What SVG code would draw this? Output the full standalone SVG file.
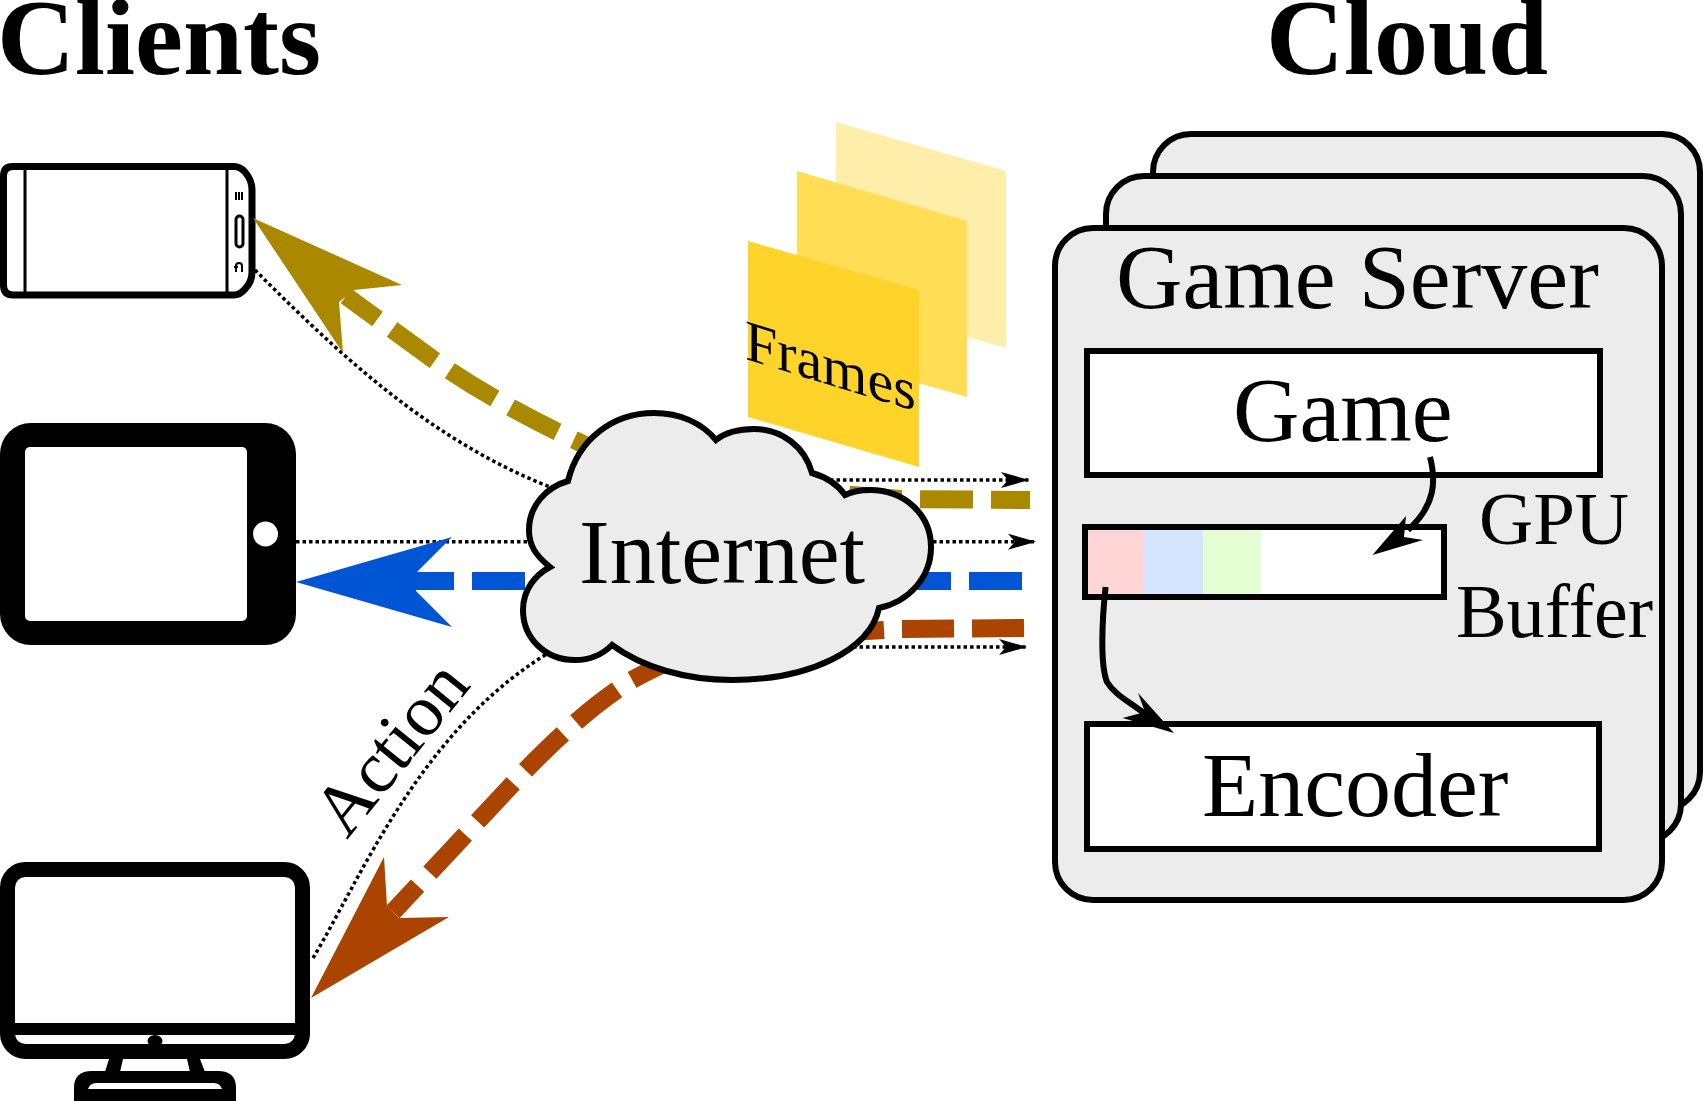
<svg xmlns="http://www.w3.org/2000/svg" width="1704" height="1101" viewBox="0 0 1704 1101">
<style>
text{font-family:"Liberation Serif","Times New Roman",serif;fill:#000}
.title{font-weight:bold;font-size:108px}
.big{font-size:92px}
.mid{font-size:75px}
.card{fill:#ececec;stroke:#000;stroke-width:6}
.box{fill:#fff;stroke:#000;stroke-width:6}
.dot{fill:none;stroke:#000;stroke-width:3.500;stroke-dasharray:3.500 3}
.dash{fill:none;stroke-width:18;stroke-dasharray:53 18}
.flow{fill:none;stroke:#000;stroke-width:6}
</style>
<defs>
<marker id="tip" markerUnits="userSpaceOnUse" markerWidth="30" markerHeight="20" refX="28" refY="9" orient="auto">
<path d="M0,1 L28,9 L0,17 L7,9 Z" fill="#000"/>
</marker>
</defs>
<rect width="1704" height="1101" fill="#fff"/>
<g id="title-clients"><text class="title" x="-3" y="74">Clients</text></g>
<g id="title-cloud"><text class="title" x="1266" y="74">Cloud</text></g>
<g id="phone" fill="none" stroke="#000">
<path d="M13,166.500 H234 Q240,166.500 245,172 Q252,180 252,190 V272 Q252,282 245,289 Q240,295 234,295 H13 Q3.500,295 3.500,285 V176 Q3.500,166.500 13,166.500 Z" fill="#fff" stroke-width="7"/>
<path d="M25,166 V295 M227,166 V295" stroke-width="3"/>
<rect x="236" y="216" width="7" height="31" rx="3.500" stroke-width="3"/>
<path d="M236,192 V200 M239,192 V200 M242,192 V200" stroke-width="2"/>
<path d="M236,272 V266 Q236,263 239,263 Q242,263 242,266 V272 M234,267 L238,267" stroke-width="2"/>
</g>
<g id="tablet">
<rect x="0" y="423" width="296" height="222" rx="31" fill="#000"/>
<rect x="25" y="447" width="222" height="174" rx="5" fill="#fff"/>
<circle cx="265.500" cy="534" r="12.500" fill="#fff"/>
</g>
<g id="desktop">
<rect x="7.500" y="869.500" width="295" height="182" rx="18" fill="#fff" stroke="#000" stroke-width="15"/>
<rect x="15" y="1023" width="280" height="12" fill="#000"/>
<ellipse cx="155" cy="1041" rx="7.500" ry="6" fill="#000"/>
<path d="M109,1059 H123 L120,1072 H105 Z M187,1059 H200 L205,1072 H190 Z" fill="#000"/>
<path d="M74,1101 V1088 Q74,1071 92,1071 H218 Q236,1071 236,1088 V1101 Z" fill="#000"/>
<path d="M88,1089 Q90,1083 96,1083 H214 Q220,1083 222,1089 Z" fill="#fff"/>
</g>
<g id="frames">
<polygon points="836,122 1006,171 1006,348 836,300" fill="#ffeeaa"/>
<polygon points="797,171 967,221 967,397 797,348" fill="#ffdd55"/>
<polygon points="748,241 919,290 919,467 748,417" fill="#ffd42a"/>
<text transform="translate(745,359) skewY(17)" font-size="58">Frames</text>
</g>
<g id="game-server">
<rect class="card" x="1153" y="134" width="547" height="676" rx="38"/>
<rect class="card" x="1106" y="176" width="575" height="666" rx="38"/>
<rect class="card" x="1055" y="228" width="607" height="672" rx="38"/>
<text x="1116" y="308" font-size="92">Game Server</text>
</g>
<g id="game">
<rect class="box" x="1087" y="351" width="513" height="124"/>
<text class="big" x="1233" y="441">Game</text>
</g>
<g id="gpu-buffer">
<rect x="1085" y="527" width="359" height="70" fill="#fff"/>
<rect x="1085" y="527" width="59" height="70" fill="#ffd5d5"/>
<rect x="1144" y="527" width="59" height="70" fill="#d5e5ff"/>
<rect x="1203" y="527" width="58" height="70" fill="#e5ffd5"/>
<rect x="1085" y="527" width="359" height="70" fill="none" stroke="#000" stroke-width="6"/>
<text class="mid" x="1479" y="544">GPU</text>
<text class="mid" x="1456" y="637" font-size="76" style="font-size:76px">Buffer</text>
</g>
<g id="encoder">
<rect class="box" x="1087" y="724" width="512" height="125"/>
<text class="big" x="1202" y="816">Encoder</text>
</g>
<g id="connectors">
<path class="dot" d="M255,270 C340,355 430,440 550,487 C620,505 720,480 800,480 H1029" marker-end="url(#tip)"/>
<path class="dot" d="M296,541.700 H1036" marker-end="url(#tip)"/>
<path class="dot" d="M313,958 C360,880 420,730 550,652 C620,640 700,647 780,647 H1027" marker-end="url(#tip)"/>
<path class="dash" stroke="#aa8800" stroke-dashoffset="14" d="M346,296 L434,360 C480,392 530,420 600,452"/>
<path class="dash" stroke="#aa8800" stroke-dashoffset="14" d="M1030,500 L900,499 L840,494"/>
<polygon fill="#aa8800" points="253,218 402,285 354,290 339,302 343,353"/>
<path class="dash" stroke="#0055d4" d="M1022,581 H416"/>
<polygon fill="#0055d4" points="296,582 452,627 416,591 416,573 452,537"/>
<path class="dash" stroke="#aa4400" style="stroke-dasharray:52 18" stroke-dashoffset="16" d="M393,912 L525,770.700 C560,735 595,703 632,680 C650,670 670,660 700,650"/>
<path class="dash" stroke="#aa4400" style="stroke-dasharray:52 18" d="M1024,628 L900,629 L850,632"/>
<polygon fill="#aa4400" points="311,998 449,917 399,918 387,906 384,857"/>
<path class="flow" d="M1430,457 C1436,480 1436,505 1408,530"/>
<polygon points="1372.500,555 1423,540 1404,537 1406,516"/>
<path class="flow" d="M1105.600,587 C1102,620 1100,665 1107,682 C1115,695 1130,702 1145,714"/>
<polygon points="1174,733 1138,693 1145,712 1122.600,718"/>
</g>
<g id="internet">
<path fill="#ececec" stroke="#000" stroke-width="6" d="M550,567 C535,555 529,545 529,530 C529,505 547,487 568,481 C578,440 612,413 654,413 C680,413 702,423 716,440 C726,432 740,429 754,429 C782,429 805,447 812,473 C826,477 838,485 845,495 C853,491 861,490 870,490 C905,490 931,515 931,547 C931,578 908,602 879,608 C870,650 810,680 732,680 C685,680 642,667 612,645 C603,654 590,660 575,660 C545,660 523,638 523,610 C523,590 535,575 550,567 Z"/>
<text class="big" x="579" y="583">Internet</text>
</g>
<g id="label-action"><text transform="translate(347,840) rotate(-51)" font-size="73">Action</text></g>
</svg>
